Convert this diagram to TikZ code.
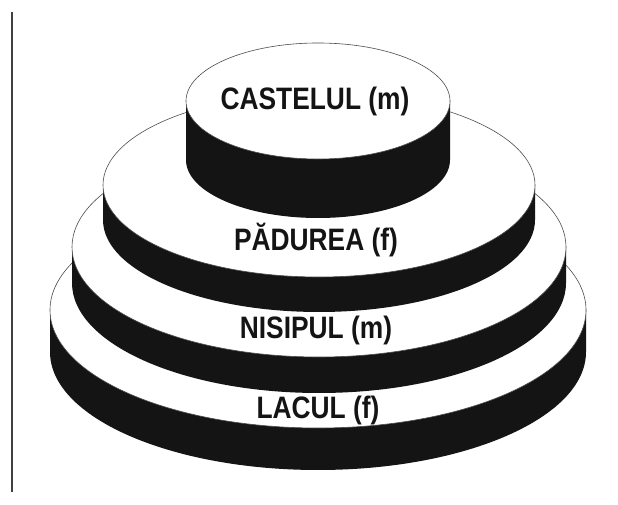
\documentclass[tikz,border=0pt]{standalone}
\usepackage{fontspec}
\setmainfont{Liberation Sans}
\begin{document}
\begin{tikzpicture}[x=1pt,y=1pt,
  side/.style={fill=black!92},
  topface/.style={fill=white,draw=black!70,line width=0.6pt},
  lbl/.style={font=\fontsize{31}{31}\selectfont\bfseries,inner sep=0pt,text=black!92},
  rule/.style={draw=black!75,line width=1.4pt}]
\useasboundingbox (0,0) rectangle (618,505);
% vertical rule
\coordinate (ruleTop) at (12,493);
\coordinate (ruleBot) at (12,13);
\draw[rule] (ruleTop) -- (ruleBot);
% lacul
\fill[side] (50,195) -- (50,153) arc[start angle=180,end angle=360,x radius=268,y radius=118] -- (586,195) -- cycle;
\draw[topface] (318,195) ellipse[x radius=268,y radius=118];
% nisipul
\fill[side] (72,258) -- (72,222) arc[start angle=180,end angle=360,x radius=247,y radius=110] -- (566,258) -- cycle;
\draw[topface] (319,258) ellipse[x radius=247,y radius=110];
% padurea
\fill[side] (103,320) -- (103,285) arc[start angle=180,end angle=360,x radius=216,y radius=92] -- (535,320) -- cycle;
\draw[topface] (319,320) ellipse[x radius=216,y radius=92];
% castelul
\fill[side] (186,404) -- (186,345) arc[start angle=180,end angle=360,x radius=132,y radius=58] -- (450,404) -- cycle;
\draw[topface] (318,404) ellipse[x radius=132,y radius=58];
% labels
\node[lbl] (castel) at (315,404) {\scalebox{0.85}[1]{CASTELUL (m)}};
\node[lbl] (padurea) at (316,265) {\scalebox{0.85}[1]{PĂDUREA (f)}};
\node[lbl] (nisipul) at (316,175) {\scalebox{0.85}[1]{NISIPUL (m)}};
\node[lbl] (lacul) at (318,95) {\scalebox{0.85}[1]{LACUL (f)}};
\end{tikzpicture}
\end{document}
